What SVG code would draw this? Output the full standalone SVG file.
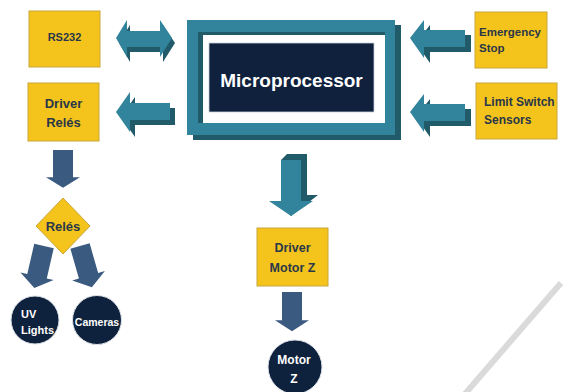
<svg xmlns="http://www.w3.org/2000/svg" width="563" height="392" viewBox="0 0 563 392">
  <style>
    .box { fill: #F5C41C; stroke: #C8A63A; stroke-width: 1; }
    .boxtxt { font-family: "Liberation Sans", Arial, sans-serif; font-weight: bold; fill: #2A3748; }
    .wtxt { font-family: "Liberation Sans", Arial, sans-serif; font-weight: bold; fill: #FFFFFF; }
    .disc { fill: #0F223D; stroke: #DDE3EA; stroke-width: 1; }
    .teal { fill: #31849B; }
    .tealdark { fill: #215A69; }
    .slate { fill: #3A5A80; }
  </style>
  <defs>
    <!-- flat down-pointing arrow, axis along +y, origin at shaft top centre -->
    <path id="downArrow" d="M-10,0 L10,0 L10,31 L17,31 L0,43 L-17,31 L-10,31 Z"/>
    <!-- left-pointing block arrow used for inputs -->
    <path id="leftArrow" d="M410,38 L424,20 L424,30 L465,30 L465,47 L424,47 L424,58 Z"/>
  </defs>

  <rect width="563" height="392" fill="#FFFFFF"/>

  <!-- faint diagonal stroke in the lower right corner -->
  <line x1="561" y1="283" x2="464" y2="395" stroke="#DADADA" stroke-width="6"/>

  <g id="connectors">
    <!-- RS232 <-> Microprocessor -->
    <g id="arrow-rs232">
      <path class="tealdark" transform="translate(3,5)" d="M116,38 L127,20 L127,31 L160,31 L160,20 L172,38 L160,57 L160,47 L127,47 L127,57 Z"/>
      <path class="teal" d="M116,38 L127,20 L127,31 L160,31 L160,20 L172,38 L160,57 L160,47 L127,47 L127,57 Z"/>
    </g>
    <!-- Microprocessor -> Driver Relés -->
    <g id="arrow-driver-reles">
      <path class="tealdark" transform="translate(5,5)" d="M116,112 L130,92 L130,103 L170,103 L170,120 L130,120 L130,132 Z"/>
      <path class="teal" d="M116,112 L130,92 L130,103 L170,103 L170,120 L130,120 L130,132 Z"/>
    </g>
    <!-- Emergency Stop -> Microprocessor -->
    <g id="arrow-emergency">
      <use href="#leftArrow" class="tealdark" transform="translate(6,5)"/>
      <use href="#leftArrow" class="teal"/>
    </g>
    <!-- Limit Switch Sensors -> Microprocessor -->
    <g id="arrow-limit">
      <use href="#leftArrow" class="tealdark" transform="translate(6,79)"/>
      <use href="#leftArrow" class="teal" transform="translate(0,74)"/>
    </g>
    <!-- Microprocessor -> Driver Motor Z (side faces, then front face) -->
    <g id="arrow-motor-driver">
      <path class="tealdark" d="M281,160 L287,154 L307,154 L307,195 L318,195 L291,216 L281,200 Z"/>
      <path class="teal" d="M281,160 L301,160 L301,201 L313,201 L291,216 L269,201 L281,201 Z"/>
    </g>
    <!-- Driver Relés -> Relés -->
    <use href="#downArrow" class="slate" transform="translate(63,150) scale(1,0.88)"/>
    <!-- Relés -> UV Lights / Cameras -->
    <use href="#downArrow" class="slate" transform="translate(44,246) rotate(13)"/>
    <use href="#downArrow" class="slate" transform="translate(80,246) rotate(-16)"/>
    <!-- Driver Motor Z -> Motor Z -->
    <use href="#downArrow" class="slate" transform="translate(292,292) scale(1,0.91)"/>
  </g>

  <g id="rs232">
    <rect class="box" x="29" y="11" width="71" height="56"/>
    <text class="boxtxt" x="64.5" y="41" font-size="11" text-anchor="middle">RS232</text>
  </g>

  <g id="driver-reles">
    <rect class="box" x="28" y="83" width="71" height="58"/>
    <text class="boxtxt" x="63.5" y="108" font-size="13" text-anchor="middle">Driver</text>
    <text class="boxtxt" x="63.5" y="127" font-size="13" text-anchor="middle">Relés</text>
  </g>

  <g id="emergency-stop">
    <rect class="box" x="475" y="12" width="72" height="56"/>
    <text class="boxtxt" x="479" y="36" font-size="11.5">Emergency</text>
    <text class="boxtxt" x="479" y="52" font-size="11.5">Stop</text>
  </g>

  <g id="limit-switch">
    <rect class="box" x="476" y="83" width="81" height="56"/>
    <text class="boxtxt" x="484" y="106" font-size="12">Limit Switch</text>
    <text class="boxtxt" x="484" y="124" font-size="12">Sensors</text>
  </g>

  <g id="microprocessor">
    <!-- extruded frame -->
    <rect class="tealdark" x="193" y="25" width="208" height="115"/>
    <rect class="teal" x="187" y="20" width="208" height="115"/>
    <rect class="tealdark" x="198" y="32" width="187" height="91"/>
    <rect x="203" y="35" width="182" height="88" fill="#FFFFFF"/>
    <rect x="209" y="43" width="165" height="69" fill="#0F213C" stroke="#C9D3DC" stroke-width="0.8"/>
    <text class="wtxt" x="291.5" y="87" font-size="19" text-anchor="middle">Microprocessor</text>
  </g>

  <g id="driver-motor-z">
    <rect class="box" x="257" y="228" width="71" height="58"/>
    <text class="boxtxt" x="292.5" y="252" font-size="12.5" text-anchor="middle">Driver</text>
    <text class="boxtxt" x="292.5" y="272" font-size="12.5" text-anchor="middle">Motor Z</text>
  </g>

  <g id="reles">
    <path d="M63,198 L90,226 L63,254 L36,226 Z" fill="#F5C41C" stroke="#C8A63A" stroke-width="1"/>
    <text class="boxtxt" x="63" y="231" font-size="13" text-anchor="middle">Relés</text>
  </g>

  <g id="uv-lights">
    <circle class="disc" cx="35" cy="320" r="24"/>
    <text class="wtxt" x="21" y="318" font-size="11">UV</text>
    <text class="wtxt" x="21" y="334" font-size="11">Lights</text>
  </g>

  <g id="cameras">
    <circle class="disc" cx="97" cy="320" r="24.5"/>
    <text class="wtxt" x="97" y="326" font-size="10.5" text-anchor="middle">Cameras</text>
  </g>

  <g id="motor-z">
    <circle class="disc" cx="295" cy="367" r="27"/>
    <text class="wtxt" x="294" y="364" font-size="12" text-anchor="middle">Motor</text>
    <text class="wtxt" x="294" y="383" font-size="12" text-anchor="middle">Z</text>
  </g>
</svg>
